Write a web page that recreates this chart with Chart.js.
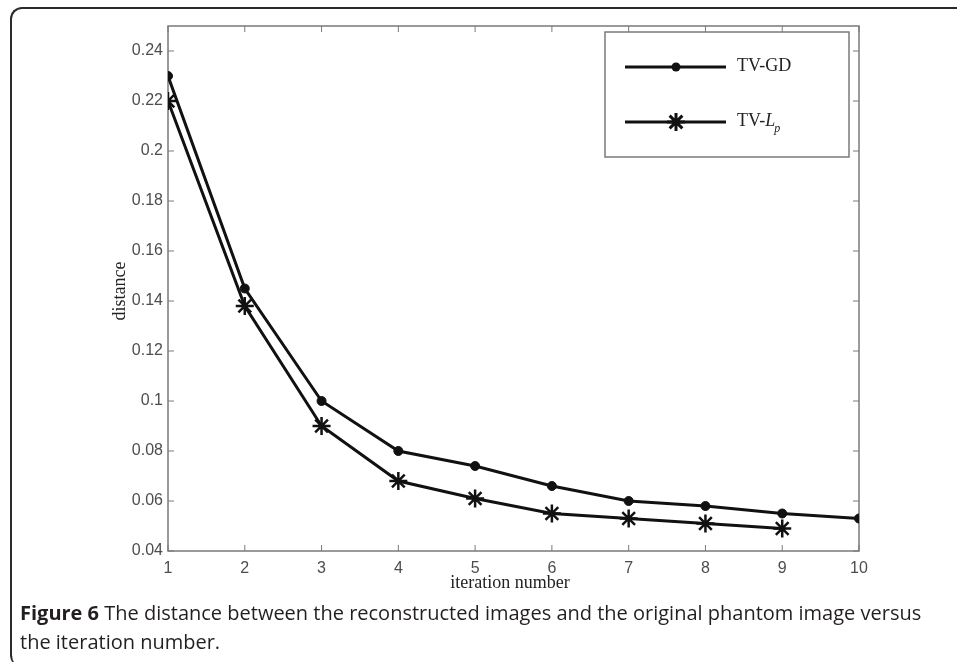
<!DOCTYPE html>
<html>
<head>
<meta charset="utf-8">
<script src="https://cdn.jsdelivr.net/npm/chart.js@4.4.0/dist/chart.umd.min.js"></script>
<style>
  body { margin: 0; background: #fff; }
  #wrap { position: relative; width: 957px; height: 662px; overflow: hidden; }
  #frame {
    position: absolute; left: 10px; top: 7px; width: 1000px; height: 660px;
    border-left: 2px solid #2b2b2b; border-top: 2px solid #2b2b2b;
    border-top-left-radius: 12px; border-bottom-left-radius: 12px;
    box-sizing: border-box;
  }
  #caption {
    position: absolute; left: 20px; top: 598px; white-space: nowrap;
    font-family: 'Open Sans', sans-serif;
    font-size: 20px; line-height: 29px; color: #231f20;
  }
  #caption b { font-weight: bold; }
  canvas { position: absolute; left: 0; top: 0; }
</style>
</head>
<body>
<div id="wrap">
  <canvas id="fig" width="957" height="662"></canvas>
  <div id="frame"></div>
  <div id="caption"><b>Figure 6</b> The distance between the reconstructed images and the original phantom image versus<br>the iteration number.</div>
</div>
<script>
var iterations = [1, 2, 3, 4, 5, 6, 7, 8, 9, 10];
var tvGd = [0.23, 0.145, 0.10, 0.08, 0.074, 0.066, 0.060, 0.058, 0.055, 0.053];
var tvLp = [0.22, 0.138, 0.09, 0.068, 0.061, 0.055, 0.053, 0.051, 0.049];
var yTicks = [0.04, 0.06, 0.08, 0.1, 0.12, 0.14, 0.16, 0.18, 0.2, 0.22, 0.24];

function points(vals) {
    return vals.map(function (v, i) { return { x: iterations[i], y: v }; });
}

// matlab style box with inward ticks, axis titles and legend
var matlabBox = {
    id: 'matlabBox',
    beforeDatasetsDraw: function (chart) {
        var ctx = chart.ctx, a = chart.chartArea;
        var xs = chart.scales.x, ys = chart.scales.y;
        ctx.save();
        ctx.strokeStyle = '#7a7a7a';
        ctx.lineWidth = 1.5;
        ctx.strokeRect(a.left, a.top, a.right - a.left, a.bottom - a.top);
        ctx.lineWidth = 1;
        ctx.beginPath();
        xs.ticks.forEach(function (t) {
            var px = xs.getPixelForValue(t.value);
            ctx.moveTo(px, a.bottom); ctx.lineTo(px, a.bottom - 6);
            ctx.moveTo(px, a.top); ctx.lineTo(px, a.top + 6);
        });
        ys.ticks.forEach(function (t) {
            var py = ys.getPixelForValue(t.value);
            ctx.moveTo(a.left, py); ctx.lineTo(a.left + 6, py);
            ctx.moveTo(a.right, py); ctx.lineTo(a.right - 6, py);
        });
        ctx.stroke();

        // axis titles
        ctx.fillStyle = '#222';
        ctx.font = '18px "Liberation Serif", serif';
        ctx.textAlign = 'center';
        ctx.textBaseline = 'middle';
        ctx.fillText('iteration number', 510, 583);
        ctx.translate(120, 291);
        ctx.rotate(-Math.PI / 2);
        ctx.fillText('distance', 0, 0);
        ctx.restore();
    },
    afterDatasetsDraw: function (chart) {
        var ctx = chart.ctx;
        ctx.save();
        // legend box
        ctx.fillStyle = '#fff';
        ctx.fillRect(605, 32, 244, 125);
        ctx.strokeStyle = '#7a7a7a';
        ctx.lineWidth = 1.5;
        ctx.strokeRect(605, 32, 244, 125);
        ctx.strokeStyle = '#111';
        ctx.lineWidth = 3;
        ctx.beginPath();
        ctx.moveTo(625, 67); ctx.lineTo(726, 67);
        ctx.moveTo(625, 122); ctx.lineTo(726, 122);
        ctx.stroke();
        ctx.fillStyle = '#111';
        ctx.beginPath();
        ctx.arc(676, 67, 4.5, 0, Math.PI * 2);
        ctx.fill();
        Chart.helpers.drawPoint(ctx, { pointStyle: 'star', radius: 9, borderWidth: 2.5 }, 676, 122);
        ctx.fillStyle = '#222';
        ctx.textBaseline = 'middle';
        ctx.textAlign = 'left';
        ctx.font = '18px "Liberation Serif", serif';
        ctx.fillText('TV-GD', 737, 66);
        ctx.fillText('TV-', 737, 121);
        var w = ctx.measureText('TV-').width;
        ctx.font = 'italic 18px "Liberation Serif", serif';
        ctx.fillText('L', 737 + w, 121);
        var w2 = ctx.measureText('L').width;
        ctx.font = 'italic 12px "Liberation Serif", serif';
        ctx.fillText('p', 737 + w + w2 - 1, 129);
        ctx.restore();
    }
};

new Chart(document.getElementById('fig'), {
    type: 'line',
    data: {
        datasets: [{
            label: 'TV-GD',
            data: points(tvGd),
            borderColor: '#111',
            backgroundColor: '#111',
            borderWidth: 3,
            pointStyle: 'circle',
            pointRadius: 4.5,
            pointBorderWidth: 1,
            tension: 0
        }, {
            label: 'TV-Lp',
            data: points(tvLp),
            borderColor: '#111',
            backgroundColor: '#111',
            borderWidth: 3,
            pointStyle: 'star',
            pointRadius: 9,
            pointBorderWidth: 2.5,
            tension: 0
        }]
    },
    options: {
        responsive: false,
        animation: false,
        layout: { padding: { left: 0, top: 26, right: 98, bottom: 0 } },
        plugins: { legend: { display: false }, tooltip: { enabled: false } },
        scales: {
            x: {
                type: 'linear', min: 1, max: 10,
                grid: { display: false, drawTicks: false },
                border: { display: false },
                ticks: { stepSize: 1, padding: 8, color: '#4d4d4d', font: { family: 'Arial, "Liberation Sans"', size: 16 } },
                afterFit: function (s) { s.height = 111; }
            },
            y: {
                type: 'linear', min: 0.04, max: 0.25,
                grid: { display: false, drawTicks: false },
                border: { display: false },
                afterBuildTicks: function (s) {
                    s.ticks = yTicks.map(function (v) { return { value: v }; });
                },
                ticks: {
                    padding: 5, color: '#4d4d4d', font: { family: 'Arial, "Liberation Sans"', size: 16 },
                    callback: function (v) { return String(+v.toFixed(2)); }
                },
                afterFit: function (s) { s.width = 168; }
            }
        }
    },
    plugins: [matlabBox]
});
</script>
</body>
</html>
